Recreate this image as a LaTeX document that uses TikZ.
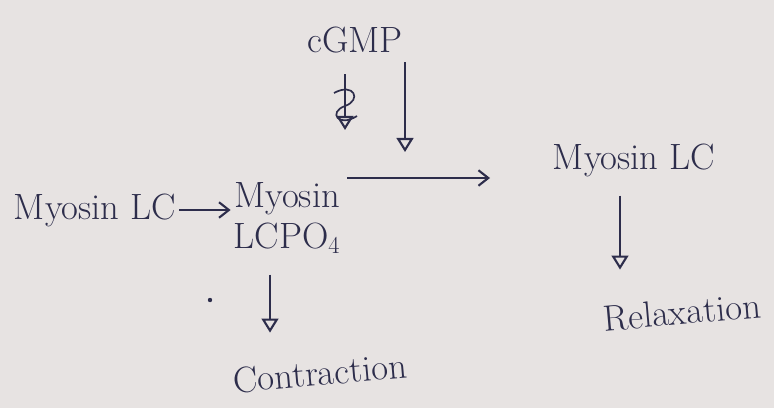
\documentclass[tikz,border=0pt]{standalone}
\usepackage{tikz}
\usetikzlibrary{
    arrows.meta,
    calc,
    positioning
}
\definecolor{ink}{RGB}{45,45,75}
\definecolor{paper}{RGB}{231,227,226}

\begin{document}
\begin{tikzpicture}[x=0.025cm, y=-0.025cm,
        hand/.style={text=ink, font=\fontsize{26}{29}\selectfont, inner sep=2pt},
        arr/.style={draw=ink, line width=1.5pt, -{Straight Barb[length=7pt,width=11pt]}},
        tri/.style={draw=ink, line width=1.5pt, -{Triangle[open,length=10pt,width=12pt]}}]
                                \fill[paper] (0, 0) rectangle (774, 408);
                                \useasboundingbox (0, 0) rectangle (774, 408);

                                \node[hand] (cgmp) at (355, 40) {cGMP};
                                \node[hand] (leftlc) at (95, 210) {Myosin LC};
                                \node[hand, align=center] (lcpo) at (287, 218) {Myosin\\LCPO$_4$};
                                \node[hand] (rightlc) at (634, 160) {Myosin LC};
                                \node[hand, rotate=5] (contraction) at (320, 373) {Contraction};
                                \node[hand, rotate=5] (relaxation) at (682, 312) {Relaxation};

                                \coordinate (hstart) at (347, 178);
                                \coordinate (hend) at (490, 178);
                                \coordinate (inhib) at (345, 130);
                                \coordinate (stim) at (405, 152);

                                \draw[arr] (leftlc) -- (leftlc -| lcpo.west);
                                \draw[arr] (hstart) -- (hend);
                                \draw[tri] (cgmp.south -| inhib) ++(0, 18) -- (inhib);
                                \draw[tri] (cgmp.south -| stim) ++(0, 6) -- (stim);
                                \draw[tri] (lcpo.south) ++(-17, 18) -- ++(0, 58);
                                \draw[tri] (rightlc.south) ++(-14, 16) -- ++(0, 74);

                                % scribble over the left cGMP arrow
                                \draw[ink, line width=1.2pt] (334, 93) .. controls (354, 82) and (362, 100) .. (345, 106)
                                    .. controls (328, 112) and (338, 128) .. (357, 116);
                                \fill[ink] (210, 300) circle (2.2);
                            \end{tikzpicture}
\end{document}
